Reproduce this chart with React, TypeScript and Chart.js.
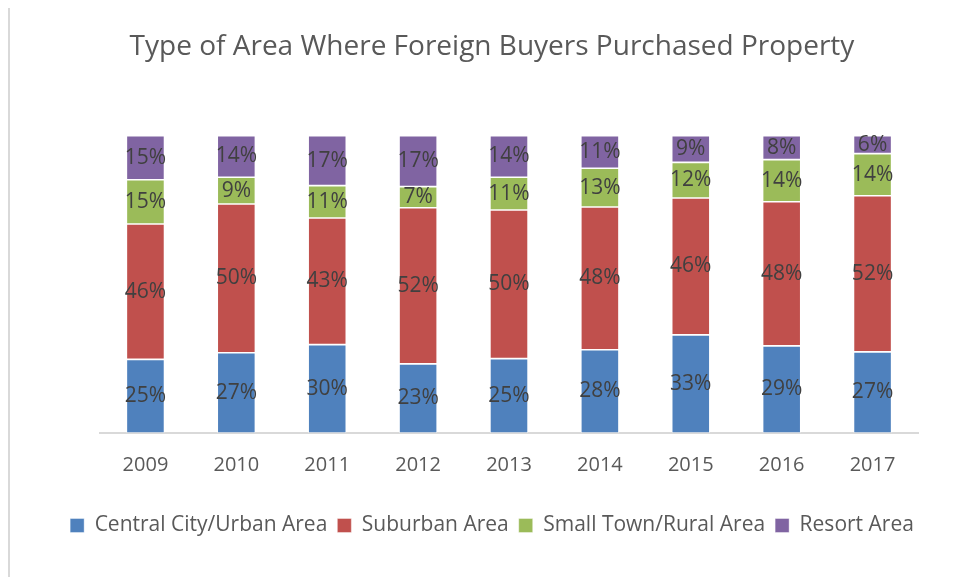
import React, { useEffect, useRef } from "react";
import { Chart, registerables } from "chart.js";

Chart.register(...registerables);

const years = ["2009", "2010", "2011", "2012", "2013", "2014", "2015", "2016", "2017"];
const centralCity = [25, 27, 30, 23, 25, 28, 33, 29, 27];
const suburban = [46, 50, 43, 52, 50, 48, 46, 48, 52];
const smallTown = [15, 9, 11, 7, 11, 13, 12, 14, 14];
const resort = [15, 14, 17, 17, 14, 11, 9, 8, 6];

const seriesNames = ["Central City/Urban Area", "Suburban Area", "Small Town/Rural Area", "Resort Area"];
const seriesColors = ["#4F81BD", "#C0504D", "#9BBB59", "#8064A2"];

const FONT = "'Open Sans', sans-serif";

const labelPlugin = {
  id: "segLabels",
  afterDatasetsDraw(chart: any) {
    const { ctx } = chart;
    ctx.save();
    ctx.font = `21px ${FONT}`;
    ctx.fillStyle = "#404040";
    ctx.textAlign = "center";
    ctx.textBaseline = "middle";
    chart.data.datasets.forEach((ds: any, di: number) => {
      const meta = chart.getDatasetMeta(di);
      meta.data.forEach((bar: any, i: number) => {
        const raw = ds.raw[i];
        const y = (bar.y + bar.base) / 2;
        ctx.fillText(`${raw}%`, bar.x, y);
      });
    });
    ctx.restore();
  },
};

export default function App() {
  const ref = useRef<HTMLCanvasElement>(null);
  useEffect(() => {
    const raws = [centralCity, suburban, smallTown, resort];
    const totals = years.map((_, i) => raws.reduce((s, a) => s + a[i], 0));
    const chart = new Chart(ref.current!, {
      type: "bar",
      data: {
        labels: years,
        datasets: raws.map((arr, k) => ({
          label: seriesNames[k],
          raw: arr,
          data: arr.map((v, i) => (v / totals[i]) * 100),
          backgroundColor: seriesColors[k],
          borderColor: "rgba(255,255,255,0.5)",
          borderWidth: 0.8,
          borderSkipped: false,
          categoryPercentage: 1,
          barPercentage: 0.42,
        })) as any,
      },
      options: {
        animation: false,
        responsive: false,
        maintainAspectRatio: false,
        layout: { padding: { left: 30, right: 10, top: 0, bottom: 31 } },
        plugins: {
          title: {
            display: true,
            text: "Type of Area Where Foreign Buyers Purchased Property",
            color: "#595959",
            font: { family: FONT, size: 28, weight: "normal" },
            padding: { top: 24, bottom: 72 },
          },
          legend: {
            position: "bottom",
            labels: {
              color: "#595959",
              font: { family: FONT, size: 21 },
              boxWidth: 14,
              boxHeight: 14,
              padding: 10,
            },
          },
          tooltip: { enabled: false },
        },
        scales: {
          x: {
            stacked: true,
            grid: { display: false, drawTicks: false },
            border: { display: true, color: "#d9d9d9", width: 2 },
            ticks: { color: "#595959", font: { family: FONT, size: 20 }, padding: 20 },
            afterFit: (s: any) => {
              s.height += 8;
            },
          },
          y: {
            stacked: true,
            min: 0,
            max: 100,
            display: true,
            grid: { display: false },
            border: { display: false },
            ticks: { display: false },
            afterFit: (s: any) => {
              s.width = 60;
            },
          },
          yRight: {
            position: "right",
            display: true,
            min: 0,
            max: 100,
            grid: { display: false },
            border: { display: false },
            ticks: { display: false },
            afterFit: (s: any) => {
              s.width = 26;
            },
          },
        },
      },
      plugins: [labelPlugin],
    });
    return () => chart.destroy();
  }, []);
  return (
    <div
      style={{
        position: "relative",
        top: -4,
        width: 946,
        height: 573,
        borderLeft: "2px solid #d9d9d9",
        borderTop: "2px solid #d9d9d9",
        boxSizing: "border-box",
      }}
    >
      <canvas ref={ref} width={944} height={571} style={{ display: "block" }} />
    </div>
  );
}
